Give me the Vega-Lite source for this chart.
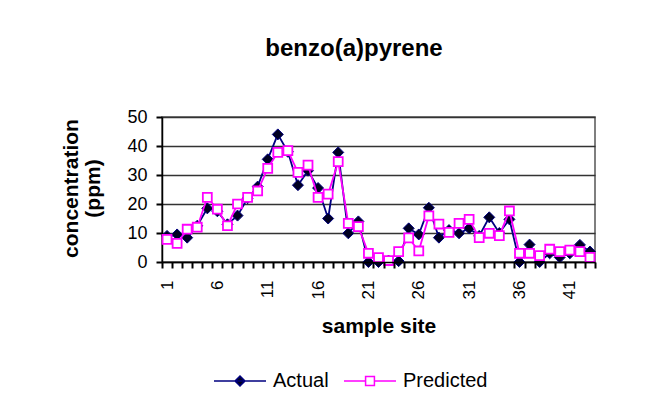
{
  "$schema": "https://vega.github.io/schema/vega-lite/v6.json",
  "width": 433,
  "height": 145,
  "autosize": {"type": "none"},
  "padding": {"left": 162, "top": 117, "right": 77, "bottom": 153},
  "background": "white",
  "title": {
    "text": "benzo(a)pyrene",
    "frame": "group",
    "anchor": "middle",
    "dx": -24.5,
    "fontSize": 24,
    "font": "Liberation Sans",
    "fontWeight": "bold",
    "color": "black",
    "baseline": "alphabetic",
    "offset": 28
  },
  "data": {
    "values": [
      {"site": 1, "Actual": 9, "Predicted": 7.8},
      {"site": 2, "Actual": 9.5, "Predicted": 6.4},
      {"site": 3, "Actual": 8.4, "Predicted": 11.3},
      {"site": 4, "Actual": 12.5, "Predicted": 12},
      {"site": 5, "Actual": 18.5, "Predicted": 22.3},
      {"site": 6, "Actual": 17.5, "Predicted": 18.2},
      {"site": 7, "Actual": 13, "Predicted": 12.5},
      {"site": 8, "Actual": 16, "Predicted": 20},
      {"site": 9, "Actual": 22, "Predicted": 22.3},
      {"site": 10, "Actual": 26, "Predicted": 24.5},
      {"site": 11, "Actual": 35.4, "Predicted": 32.3},
      {"site": 12, "Actual": 44, "Predicted": 37.8},
      {"site": 13, "Actual": 38, "Predicted": 38.4},
      {"site": 14, "Actual": 26.5, "Predicted": 30.9},
      {"site": 15, "Actual": 31.5, "Predicted": 33.4},
      {"site": 16, "Actual": 25.5, "Predicted": 22.3},
      {"site": 17, "Actual": 15, "Predicted": 23.4},
      {"site": 18, "Actual": 37.8, "Predicted": 34.6},
      {"site": 19, "Actual": 9.9, "Predicted": 13.3},
      {"site": 20, "Actual": 14, "Predicted": 12.2},
      {"site": 21, "Actual": 0, "Predicted": 3},
      {"site": 22, "Actual": 0, "Predicted": 1.5},
      {"site": 23, "Actual": 0.5, "Predicted": 0.5},
      {"site": 24, "Actual": 0.3, "Predicted": 3.6},
      {"site": 25, "Actual": 11.6, "Predicted": 8.3},
      {"site": 26, "Actual": 9.5, "Predicted": 3.8},
      {"site": 27, "Actual": 18.7, "Predicted": 15.9},
      {"site": 28, "Actual": 8.4, "Predicted": 13.1},
      {"site": 29, "Actual": 11, "Predicted": 10.2},
      {"site": 30, "Actual": 9.9, "Predicted": 13.3},
      {"site": 31, "Actual": 11.6, "Predicted": 14.7},
      {"site": 32, "Actual": 9, "Predicted": 8.4},
      {"site": 33, "Actual": 15.4, "Predicted": 9.9},
      {"site": 34, "Actual": 10, "Predicted": 9.1},
      {"site": 35, "Actual": 14.7, "Predicted": 17.6},
      {"site": 36, "Actual": 0, "Predicted": 3},
      {"site": 37, "Actual": 6, "Predicted": 3},
      {"site": 38, "Actual": 0, "Predicted": 2.2},
      {"site": 39, "Actual": 3, "Predicted": 4.4},
      {"site": 40, "Actual": 1.6, "Predicted": 3.6},
      {"site": 41, "Actual": 3, "Predicted": 4.1},
      {"site": 42, "Actual": 5.9, "Predicted": 3.6},
      {"site": 43, "Actual": 3.6, "Predicted": 1.6}
    ]
  },
  "transform": [{"fold": ["Actual", "Predicted"], "as": ["series", "value"]}],
  "encoding": {
    "x": {
      "field": "site",
      "type": "quantitative",
      "scale": {"domain": [0.5, 43.5], "nice": false, "zero": false},
      "axis": {
        "values": [0.5, 1.5, 2.5, 3.5, 4.5, 5.5, 6.5, 7.5, 8.5, 9.5, 10.5, 11.5, 12.5, 13.5, 14.5, 15.5, 16.5, 17.5, 18.5, 19.5, 20.5, 21.5, 22.5, 23.5, 24.5, 25.5, 26.5, 27.5, 28.5, 29.5, 30.5, 31.5, 32.5, 33.5, 34.5, 35.5, 36.5, 37.5, 38.5, 39.5, 40.5, 41.5, 42.5, 43.5],
        "title": "sample site",
        "titleFont": "Liberation Sans",
        "titleFontSize": 21,
        "titleFontWeight": "bold",
        "titleColor": "black",
        "titleBaseline": "alphabetic",
        "titleY": 70,
        "labelAngle": 270,
        "labelFont": "Liberation Sans",
        "labelFontSize": 17,
        "labelColor": "black",
        "labelPadding": 12,
        "labelOffset": 5,
        "labelOverlap": false,
        "labelBound": false,
        "labelFlush": false,
        "labelExpr": "(datum.value - 0.5) % 5 == 0 ? format(datum.value + 0.5, 'd') : ''",
        "ticks": true,
        "tickSize": 6,
        "tickColor": "#000000",
        "tickOpacity": 1,
        "tickWidth": 2,
        "domainColor": "black",
        "domainWidth": 1.5,
        "grid": false,
        "zindex": 1
      }
    },
    "y": {
      "field": "value",
      "type": "quantitative",
      "scale": {"domain": [0, 50], "nice": false},
      "axis": {
        "values": [0, 10, 20, 30, 40, 50],
        "title": ["concentration", "(ppm)"],
        "titleFont": "Liberation Sans",
        "titleFontSize": 21,
        "titleFontWeight": "bold",
        "titleColor": "black",
        "titleAngle": 270,
        "titleAlign": "center",
        "titleBaseline": "alphabetic",
        "titleLineHeight": 22,
        "titleX": -84.5,
        "titleY": 71,
        "labelFont": "Liberation Sans",
        "labelFontSize": 18,
        "labelColor": "black",
        "labelPadding": 9,
        "tickSize": 6,
        "tickColor": "#000000",
        "tickOpacity": 1,
        "tickWidth": 2,
        "domainColor": "black",
        "domainWidth": 1.5,
        "grid": true,
        "gridColor": "#333333",
        "gridWidth": 1.6
      }
    }
  },
  "layer": [
    {
      "transform": [{"filter": "datum.series == 'Actual'"}],
      "mark": {"type": "line", "color": "#000080", "strokeWidth": 1.8}
    },
    {
      "transform": [{"filter": "datum.series == 'Actual'"}],
      "mark": {"type": "point", "shape": "diamond", "size": 121, "filled": true, "fill": "#000022", "stroke": "#000080", "strokeWidth": 1, "opacity": 1}
    },
    {
      "transform": [{"filter": "datum.series == 'Predicted'"}],
      "mark": {"type": "line", "color": "#ff00ff", "strokeWidth": 1.8}
    },
    {
      "transform": [{"filter": "datum.series == 'Predicted'"}],
      "mark": {"type": "point", "shape": "square", "size": 80, "filled": false, "fill": "white", "stroke": "#ff00ff", "strokeWidth": 1.8, "opacity": 1}
    },
    {
      "transform": [{"filter": "datum.site > 100"}],
      "mark": {"type": "point", "filled": true, "strokeWidth": 1.5, "opacity": 1},
      "encoding": {
        "shape": {
          "field": "series",
          "type": "nominal",
          "title": null,
          "scale": {
            "domain": ["Actual", "Predicted"],
            "range": [
              "M-1,0L1,0M0,-0.19L0.19,0L0,0.19L-0.19,0Z",
              "M-1,0L-0.17,0M0.17,0L1,0M-0.17,-0.17L0.17,-0.17L0.17,0.17L-0.17,0.17Z"
            ]
          },
          "legend": {
            "orient": "none",
            "legendX": 51,
            "legendY": 237,
            "direction": "horizontal",
            "symbolSize": 2704,
            "symbolStrokeWidth": 1.5,
            "symbolOpacity": 1,
            "labelFont": "Liberation Sans",
            "labelFontSize": 20,
            "labelColor": "black",
            "labelOffset": 6,
            "columnPadding": 12,
            "padding": 0
          }
        },
        "fill": {
          "field": "series",
          "type": "nominal",
          "title": null,
          "scale": {"domain": ["Actual", "Predicted"], "range": ["#000022", "#ffffff"]},
          "legend": {
            "orient": "none",
            "legendX": 51,
            "legendY": 237,
            "direction": "horizontal",
            "symbolSize": 2704,
            "symbolStrokeWidth": 1.5,
            "symbolOpacity": 1,
            "labelFont": "Liberation Sans",
            "labelFontSize": 20,
            "labelColor": "black",
            "labelOffset": 6,
            "columnPadding": 12,
            "padding": 0
          }
        },
        "stroke": {
          "field": "series",
          "type": "nominal",
          "title": null,
          "scale": {"domain": ["Actual", "Predicted"], "range": ["#000080", "#ff00ff"]},
          "legend": {
            "orient": "none",
            "legendX": 51,
            "legendY": 237,
            "direction": "horizontal",
            "symbolSize": 2704,
            "symbolStrokeWidth": 1.5,
            "symbolOpacity": 1,
            "labelFont": "Liberation Sans",
            "labelFontSize": 20,
            "labelColor": "black",
            "labelOffset": 6,
            "columnPadding": 12,
            "padding": 0
          }
        }
      }
    }
  ],
  "config": {
    "view": {"stroke": "#555555", "strokeWidth": 1.5},
    "font": "Liberation Sans",
    "axis": {"ticks": true, "tickColor": "#000000"}
  }
}
